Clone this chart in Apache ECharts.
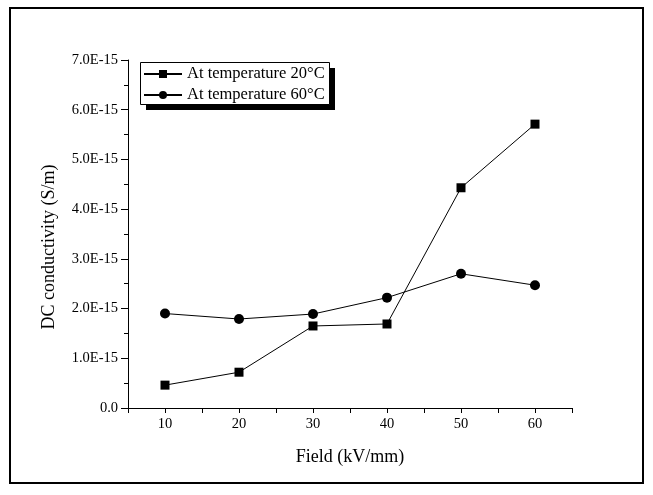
<!DOCTYPE html>
<html><head><meta charset="utf-8">
<script src="https://cdn.jsdelivr.net/npm/echarts@6/dist/echarts.min.js"></script>
<style>html,body{margin:0;padding:0;background:#fff}#c{width:653px;height:495px}</style>
</head><body><div id="c"></div>
<script>
const fields = [10, 20, 30, 40, 50, 60];
const series20 = [0.46, 0.72, 1.65, 1.69, 4.43, 5.71];
const series60 = [1.90, 1.79, 1.89, 2.22, 2.70, 2.47];
const seriesNames = ['At temperature 20°C', 'At temperature 60°C'];
const xTitle = 'Field (kV/mm)';
const yTitle = 'DC conductivity (S/m)';
const SCALE = 1e-15;

const chart = echarts.init(document.getElementById('c'));
const font = 'Liberation Serif';
chart.setOption({
  animation: false,
  backgroundColor: '#fff',
  graphic: [
    {type: 'rect', shape: {x: 10, y: 8, width: 633, height: 475},
     style: {fill: 'none', stroke: '#000', lineWidth: 2}, z: 100},
    {type: 'rect', shape: {x: 146, y: 68, width: 189, height: 42},
     style: {fill: '#000'}, z: 1},
    {type: 'rect', shape: {x: 140.5, y: 62.5, width: 189, height: 42},
     style: {fill: '#fff', stroke: '#000', lineWidth: 1}, z: 2},
    {type: 'text', x: 49, y: 247, rotation: Math.PI / 2, z: 10,
     style: {text: yTitle, font: '18px "Liberation Serif"', fill: '#000',
             align: 'center', verticalAlign: 'middle'}}
  ],
  grid: {left: 128, right: 81, top: 60, bottom: 87},
  legend: {
    left: 141, top: 65, orient: 'vertical', z: 10,
    data: seriesNames,
    padding: [0, 0, 0, 2], itemGap: 3, itemWidth: 38, itemHeight: 10,
    textStyle: {fontFamily: font, fontSize: 16.5, color: '#000', lineHeight: 18}
  },
  xAxis: {
    type: 'value', min: 5, max: 65, interval: 5,
    name: xTitle, nameLocation: 'middle', nameGap: 40,
    nameTextStyle: {fontFamily: font, fontSize: 18, color: '#000'},
    axisLine: {lineStyle: {color: '#000', width: 1}},
    axisTick: {show: true, length: 5, lineStyle: {color: '#000'}},
    axisLabel: {fontFamily: font, fontSize: 14.5, color: '#000', margin: 9,
      formatter: v => (v % 10 === 0 ? String(v) : '')},
    splitLine: {show: false}
  },
  yAxis: {
    type: 'value', min: 0, max: 7 * SCALE, interval: SCALE,
    axisLine: {show: true, lineStyle: {color: '#000', width: 1}},
    axisTick: {show: true, length: 7, lineStyle: {color: '#000'}},
    minorTick: {show: true, splitNumber: 2, length: 4, lineStyle: {color: '#000'}},
    axisLabel: {fontFamily: font, fontSize: 14.5, color: '#000', margin: 10,
      formatter: v => { const n = Math.round(v / SCALE * 10) / 10; return n === 0 ? '0.0' : n.toFixed(1) + 'E-15'; }},
    splitLine: {show: false}
  },
  series: [
    {name: seriesNames[0], type: 'line', symbol: 'rect', symbolSize: 9,
     data: fields.map((f, i) => [f, series20[i] * SCALE]),
     lineStyle: {color: '#000', width: 1}, itemStyle: {color: '#000'}},
    {name: seriesNames[1], type: 'line', symbol: 'circle', symbolSize: 10,
     data: fields.map((f, i) => [f, series60[i] * SCALE]),
     lineStyle: {color: '#000', width: 1}, itemStyle: {color: '#000'}}
  ]
});
</script></body></html>
